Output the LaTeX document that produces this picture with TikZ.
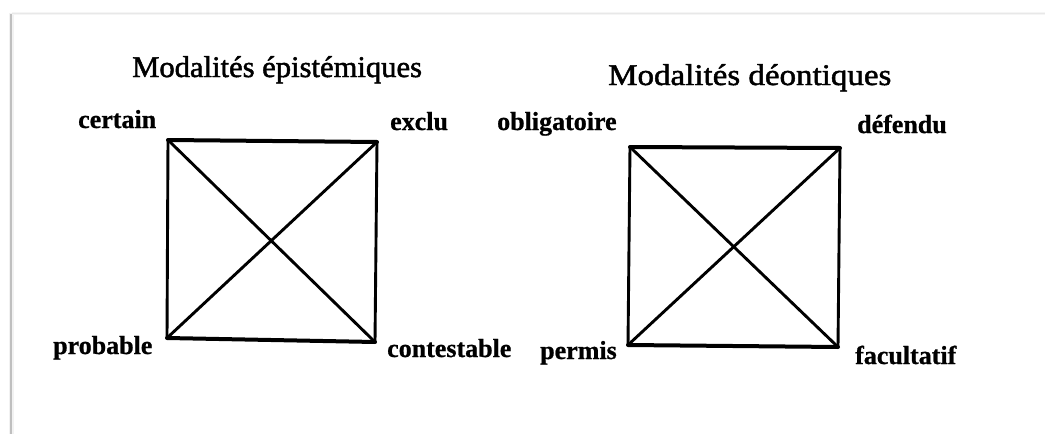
\documentclass[tikz,border=0pt]{standalone}
\usepackage{fontspec}
\setmainfont{Liberation Serif}
\newfontfamily\titlefontA[FakeStretch=1.02,FakeBold=1.6]{Liberation Serif}
\newfontfamily\titlefontB[FakeStretch=1.1,FakeBold=1.6]{Liberation Serif}
\newfontfamily\labelfont[FakeBold=0.8]{Liberation Serif Bold}
\begin{document}
\begin{tikzpicture}[x=1pt,y=-1pt,
  lbl/.style={anchor=base west,inner sep=0pt,font=\labelfont\fontsize{26}{30}\selectfont},
  ttl/.style={anchor=base west,inner sep=0pt},
  side/.style={line width=2.9pt,line cap=round,line join=round},
  edge/.style={line width=4pt,line cap=round,line join=round}]
\useasboundingbox (0,0) rectangle (1045,434);
\fill[white] (0,0) rectangle (1045,434);
% page frame shadow
\draw[line width=5pt,black!5] (11,434) -- (11,13);
\draw[line width=3pt,black!4] (12,13) -- (1045,13);
\draw[line width=1.8pt,black!25] (11,434) -- (11,14);
\draw[line width=0.8pt,black!9] (12,13) -- (1045,13);
% titles
\node[ttl,font=\titlefontA\fontsize{30}{34}\selectfont] (t1) at (132,77) {Modalités épistémiques};
\node[ttl,font=\titlefontB\fontsize{30}{34}\selectfont] (t2) at (608,85) {Modalités déontiques};
% left square corners
\coordinate (a1) at (168,140);
\coordinate (b1) at (377,142);
\coordinate (c1) at (167,338);
\coordinate (d1) at (375,342);
% right square corners
\coordinate (a2) at (630,147);
\coordinate (b2) at (840,148);
\coordinate (c2) at (628,345);
\coordinate (d2) at (838,347);
% labels
\node[lbl] (certain) at (78,128) {certain};
\node[lbl] (exclu) at (390,130) {exclu};
\node[lbl] (probable) at (53,354) {probable};
\node[lbl] (contestable) at (387,357) {contestable};
\node[lbl] (oblig) at (497,130) {obligatoire};
\node[lbl] (defendu) at (857,133) {défendu};
\node[lbl] (permis) at (540,359) {permis};
\node[lbl] (facult) at (855,364) {facultatif};
% squares
\foreach \i in {1,2}{
  \draw[side] (a\i) -- (c\i);
  \draw[side] (b\i) -- (d\i);
  \draw[side] (a\i) -- (d\i);
  \draw[side] (b\i) -- (c\i);
  \draw[edge] (a\i) -- (b\i);
  \draw[edge] (c\i) -- (d\i);
}
\end{tikzpicture}
\end{document}
